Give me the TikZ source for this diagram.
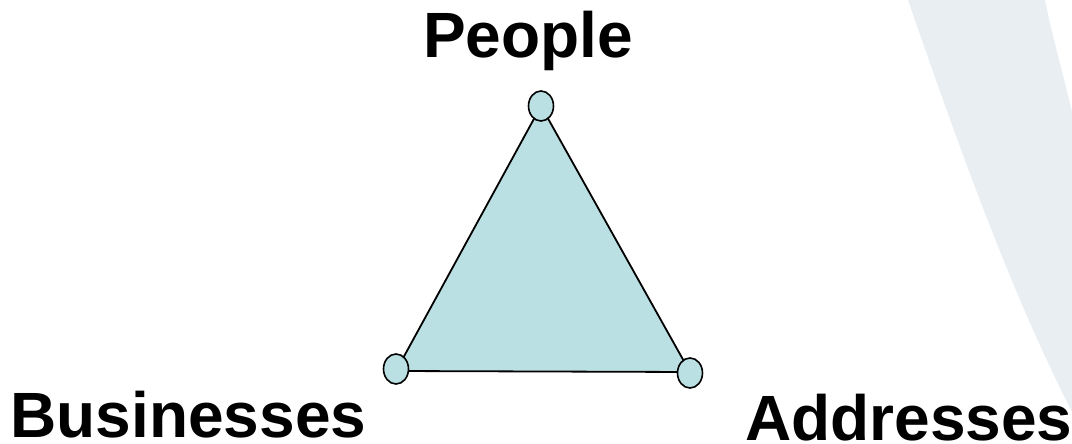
\documentclass[tikz,border=0pt]{standalone}
\usepackage{fontspec}
\setmainfont{Liberation Sans}
\usetikzlibrary{shapes.geometric}
\definecolor{trifill}{RGB}{187,224,227}
\definecolor{bgshape}{RGB}{233,238,242}
\tikzset{
  vertexnode/.style={ellipse, draw=black, line width=1.6pt, fill=trifill, minimum width=25pt, minimum height=30pt, inner sep=0pt},
  labeltext/.style={inner sep=0pt, anchor=base west, font=\fontsize{64}{72}\selectfont\bfseries},
  edgeline/.style={draw=black, line width=1.8pt, line join=miter}
}
\begin{document}
\begin{tikzpicture}[x=1pt,y=-1pt]
\useasboundingbox (0,0) rectangle (1072,444);
% background decoration
\fill[bgshape] (908,0) .. controls (960,150) and (1010,290) .. (1072,412) -- (1072,112) .. controls (1062,70) and (1052,35) .. (1045,0) -- cycle;
% vertices
\coordinate (pc) at (541,106);
\coordinate (bc) at (396,369);
\coordinate (ac) at (690,373);
\filldraw[edgeline, fill=trifill] (pc) -- (bc |- 0,371) -- (ac |- 0,372) -- cycle;
\node[vertexnode] (people) at (pc) {};
\node[vertexnode] (business) at (bc) {};
\node[vertexnode] (address) at (ac) {};
% labels
\node[labeltext] (lpeople) at (423,58) {People};
\node[labeltext] (lbusiness) at (10.3,437) {Businesses};
\node[labeltext] (laddress) at (745,440.5) {Addresses};
\end{tikzpicture}
\end{document}
